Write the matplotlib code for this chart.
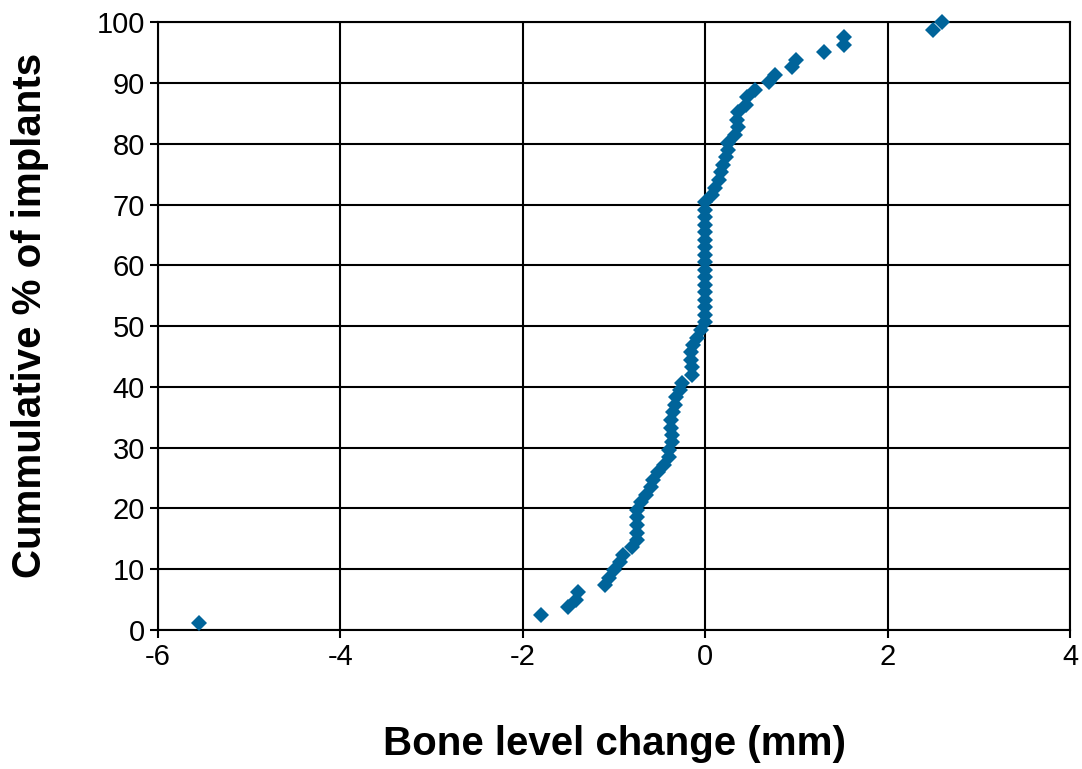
import matplotlib.pyplot as plt

plt.rcParams['font.family'] = ['Liberation Sans', 'DejaVu Sans']
plt.rcParams['axes.unicode_minus'] = False

# bone level change (mm) per implant, sorted
change = [-5.55, -1.8, -1.5, -1.42, -1.4, -1.1, -1.05, -1.0, -0.93, -0.9,
          -0.8, -0.75, -0.75, -0.75, -0.75, -0.75, -0.7, -0.65, -0.6, -0.57,
          -0.52, -0.45, -0.4, -0.4, -0.36, -0.36, -0.38, -0.38, -0.35, -0.33,
          -0.32, -0.28, -0.26, -0.15, -0.15, -0.16, -0.16, -0.13, -0.09, -0.05,
          0.0, 0.0, 0.0, 0.0, 0.0, 0.0, 0.0, 0.0, 0.0, 0.0,
          0.0, 0.0, 0.0, 0.0, 0.0, 0.0, 0.0, 0.07, 0.11, 0.15,
          0.17, 0.2, 0.23, 0.25, 0.25, 0.33, 0.36, 0.35, 0.36, 0.45,
          0.46, 0.55, 0.7, 0.76, 0.95, 1.0, 1.3, 1.52, 1.52, 2.5,
          2.6]
# cumulative % of implants
cum_pct = [1.2, 2.5, 3.7, 4.9, 6.2, 7.4, 8.6, 9.9, 11.1, 12.3,
           13.6, 14.8, 16.0, 17.3, 18.5, 19.8, 21.0, 22.2, 23.5, 24.7,
           25.9, 27.2, 28.4, 29.6, 30.9, 32.1, 33.3, 34.6, 35.8, 37.0,
           38.3, 39.5, 40.7, 42.0, 43.2, 44.4, 45.7, 46.9, 48.1, 49.4,
           50.6, 51.9, 53.1, 54.3, 55.6, 56.8, 58.0, 59.3, 60.5, 61.7,
           63.0, 64.2, 65.4, 66.7, 67.9, 69.1, 70.4, 71.6, 72.8, 74.1,
           75.3, 76.5, 77.8, 79.0, 80.2, 81.5, 82.7, 84.0, 85.2, 86.4,
           87.7, 88.9, 90.1, 91.4, 92.6, 93.8, 95.1, 96.3, 97.5, 98.8,
           100.0]

fig = plt.figure(figsize=(10.82, 7.69), dpi=100)
ax = fig.add_axes([0.146, 0.181, 0.843, 0.790])

ax.plot(change, cum_pct, linestyle='none', marker='D', markersize=8.5,
        color='#00649a', markeredgewidth=0, zorder=3, clip_on=False)

ax.set_xlim(-6, 4)
ax.set_ylim(0, 100)
ax.set_xticks(range(-6, 5, 2))
ax.set_yticks(range(0, 101, 10))
ax.grid(True, color='black', linewidth=1.5)
ax.set_axisbelow(True)
for s in ax.spines.values():
    s.set_linewidth(1.5)
ax.tick_params(direction='out', length=6, width=1.5, labelsize=21)

ax.set_xlabel('Bone level change (mm)', fontsize=29, fontweight='bold', labelpad=39)
ax.set_ylabel('Cummulative % of implants', fontsize=29, fontweight='bold',
              va='center')
ax.yaxis.set_label_coords(-0.14, 0.518)

fig.savefig('out.png', dpi=100)
